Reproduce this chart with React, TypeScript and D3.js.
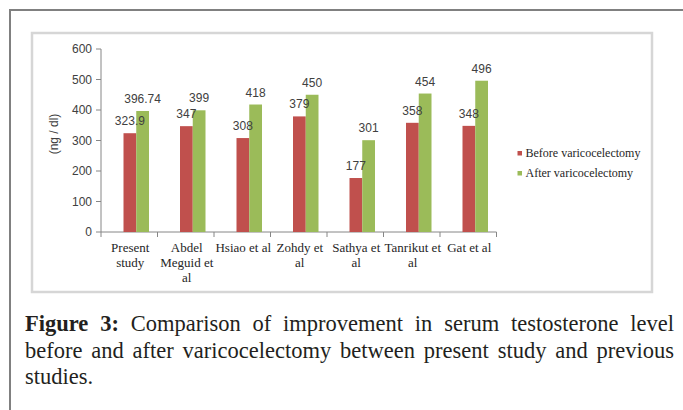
import React from "react";
import * as d3 from "d3";

// studies compared (x categories), wrapped as in the original
const categories = ["Present study", "Abdel Meguid et al", "Hsiao et al", "Zohdy et al", "Sathya et al", "Tanrikut et al", "Gat et al"];
const categoryLines = [["Present", "study"], ["Abdel", "Meguid et", "al"], ["Hsiao et al"], ["Zohdy et", "al"], ["Sathya et", "al"], ["Tanrikut et", "al"], ["Gat et al"]];

// testosterone (ng / dl)
const seriesNames = ["Before varicocelectomy", "After varicocelectomy"];
const beforeValues = [323.9, 347, 308, 379, 177, 358, 348];
const afterValues = [396.74, 399, 418, 450, 301, 454, 496];
const beforeLabels = ["323.9", "347", "308", "379", "177", "358", "348"];
const afterLabels = ["396.74", "399", "418", "450", "301", "454", "496"];
const yTicks = [0, 100, 200, 300, 400, 500, 600];

const colors = ["#C0504D", "#9BBB59"];

const captionLines = [
  ["Figure 3:", " Comparison of improvement in serum testosterone level"],
  ["", "before and after varicocelectomy between present study and previous"],
  ["", "studies."],
];

export default function App() {
  const x = d3.scaleBand<string>().domain(categories).range([101, 496.5]);
  const xs = d3.scaleBand<string>().domain(seriesNames).range([0, 25.5]);
  const y = d3.scaleLinear().domain([0, 600]).range([232, 49]);
  const pairShift = 7;

  const barX = (cat: string, s: string) =>
    (x(cat) as number) + x.bandwidth() / 2 + pairShift - xs.bandwidth() + (xs(s) as number);

  const sans = "'Liberation Sans', Arial, sans-serif";
  const serif = "'Liberation Serif', 'Times New Roman', serif";
  const values = [beforeValues, afterValues];
  const labels = [beforeLabels, afterLabels];

  return (
    <div style={{ position: "absolute", left: 0, top: 0, width: 683, height: 410, overflow: "hidden", background: "#fff" }}>
      <svg width={683} height={410} style={{ position: "absolute", left: 0, top: 0 }}>
        {/* outer frame */}
        <path d="M10,410 V10 H683" fill="none" stroke="#808080" strokeWidth={2} />
        {/* chart area box */}
        <rect x={32} y={33} width={620} height={259} fill="#fff" stroke="#d6d6d6" strokeWidth={2.5} />

        {/* y axis */}
        <line x1={101} x2={101} y1={y(600)} y2={y(0)} stroke="#868686" />
        {yTicks.map((t) => (
          <g key={t}>
            <line x1={96} x2={101} y1={y(t)} y2={y(t)} stroke="#868686" />
            <text x={92} y={y(t)} dy="0.35em" textAnchor="end" fontFamily={sans} fontSize={12} fill="#404040">
              {t}
            </text>
          </g>
        ))}
        <text
          transform={`translate(58,134) rotate(-90)`}
          textAnchor="middle"
          fontFamily={sans}
          fontSize={12}
          fill="#404040"
        >
          (ng / dl)
        </text>

        {/* x axis */}
        <line x1={101} x2={496.5} y1={y(0)} y2={y(0)} stroke="#868686" />
        {categories.map((c) => (
          <line key={c} x1={x(c) as number} x2={x(c) as number} y1={y(0)} y2={y(0) + 5} stroke="#868686" />
        ))}
        <line x1={496.5} x2={496.5} y1={y(0)} y2={y(0) + 5} stroke="#868686" />
        {categories.map((c, i) => (
          <text key={c} textAnchor="middle" fontFamily={serif} fontSize={13} fill="#262626">
            {categoryLines[i].map((ln, j) => (
              <tspan key={j} x={(x(c) as number) + x.bandwidth() / 2 + 1} y={252 + j * 15}>
                {ln}
              </tspan>
            ))}
          </text>
        ))}

        {/* bars */}
        {seriesNames.map((s, si) =>
          categories.map((c, i) => (
            <rect
              key={s + c}
              x={barX(c, s)}
              y={y(values[si][i])}
              width={xs.bandwidth()}
              height={y(0) - y(values[si][i])}
              fill={colors[si]}
            />
          ))
        )}
        {/* data labels */}
        {seriesNames.map((s, si) =>
          categories.map((c, i) => (
            <text
              key={"l" + s + c}
              x={barX(c, s) + xs.bandwidth() / 2}
              y={y(values[si][i]) - 8}
              textAnchor="middle"
              fontFamily={sans}
              fontSize={12}
              fill="#404040"
            >
              {labels[si][i]}
            </text>
          ))
        )}

        {/* legend */}
        {seriesNames.map((s, si) => (
          <g key={s} transform={`translate(517.5,${151 + si * 20})`}>
            <rect x={0} y={0} width={4.5} height={4.5} fill={colors[si]} />
            <text x={8} y={5.8} fontFamily={serif} fontSize={12} fill="#262626">
              {s}
            </text>
          </g>
        ))}
      </svg>

      {/* caption */}
      {captionLines.map((ln, i) => (
        <div
          key={i}
          style={{
            position: "absolute",
            left: 25,
            top: 313 + i * 26.5,
            width: 649,
            fontFamily: serif,
            fontSize: 22.5,
            lineHeight: "22.5px",
            color: "#231f20",
            whiteSpace: "nowrap",
            textAlign: i < 2 ? "justify" : "left",
            textAlignLast: i < 2 ? "justify" : "left",
          }}
        >
          {ln[0] && <b>{ln[0]}</b>}
          {ln[1]}
        </div>
      ))}
    </div>
  );
}
